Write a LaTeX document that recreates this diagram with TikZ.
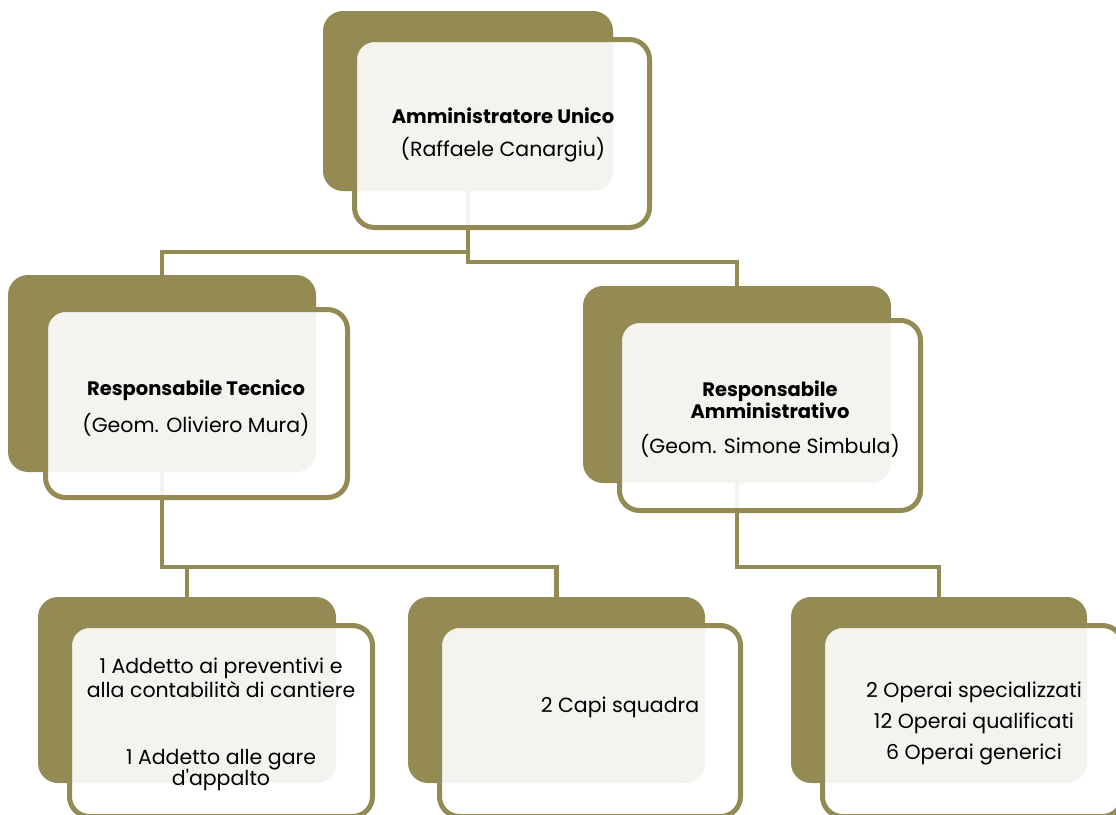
\documentclass[tikz,border=0pt]{standalone}
\usepackage{fontspec}
\setmainfont{Poppins}[Ligatures=TeXOff]
\usetikzlibrary{backgrounds}
\definecolor{olive}{HTML}{948A54}
\newcommand{\bfl}[1]{{\fontsize{19.5}{22}\selectfont\bfseries #1}}
\begin{document}
\begin{tikzpicture}[x=1pt,y=-1pt,
  back/.style={fill=olive, draw=none, rounded corners=20pt, inner sep=0pt},
  front/.style={draw=olive, line width=5pt, fill=white, fill opacity=0.9, draw opacity=1, rounded corners=20pt, inner sep=0pt},
  conn/.style={draw=olive, line width=4.5pt},
  txt/.style={align=center, text=black, inner sep=0pt, font=\fontsize{20.5}{22}\selectfont}]
\useasboundingbox (0,0) rectangle (1116,814);
\clip (0,0) rectangle (1116,814);
% back boxes
\path (468,101) node[back, minimum width=290pt, minimum height=180pt] (d0) {};
\path (162,373.5) node[back, minimum width=308pt, minimum height=197pt] (dT) {};
\path (737,384.5) node[back, minimum width=308pt, minimum height=197pt] (dA) {};
\path (187,690) node[back, minimum width=298pt, minimum height=186pt] (dC1) {};
\path (556.5,690) node[back, minimum width=297pt, minimum height=186pt] (dC2) {};
\path (939,690) node[back, minimum width=296pt, minimum height=186pt] (dC3) {};
% front boxes
\path (502,133.5) node[front, minimum width=295pt, minimum height=188pt] (f0) {};
\path (196.5,403.5) node[front, minimum width=302pt, minimum height=188pt] (fT) {};
\path (770,415.5) node[front, minimum width=301pt, minimum height=190pt] (fA) {};
\path (221,721) node[front, minimum width=303pt, minimum height=191pt] (fC1) {};
\path (590,721) node[front, minimum width=301pt, minimum height=191pt] (fC2) {};
\path (972.5,721) node[front, minimum width=300pt, minimum height=191pt] (fC3) {};
% junction coordinates
\coordinate (j0L) at (468,252);
\coordinate (j0R) at (468,262);
\coordinate (jT) at (162,567);
\coordinate (jA) at (737,567);
% connectors behind the boxes
\begin{pgfonlayer}{background}
\draw[conn] (d0.south) -- (j0R) -| (dA.north);
\draw[conn] (j0L) -| (dT.north);
\draw[conn] (dT.south) -- (jT) -| (dC2.north);
\draw[conn] (jT -| dC1.north) -- (dC1.north);
\draw[conn] (dA.south) -- (jA) -| (dC3.north);
\end{pgfonlayer}
% texts
\node[txt] (t0) at (503,135) {\bfl{Amministratore Unico}\\[11pt](Raffaele Canargiu)};
\node[txt] (tT) at (196,408) {\bfl{Responsabile Tecnico}\\[11pt](Geom. Oliviero Mura)};
\node[txt] (tA) at (770,419) {\bfl{Responsabile}\\\bfl{Amministrativo}\\[13pt](Geom. Simone Simbula)};
\node[txt] (tC1) at (221,724) {1 Addetto ai preventivi e\\[2pt]alla contabilità di cantiere\\[45pt]1 Addetto alle gare\\[-1pt]d'appalto};
\node[txt] (tC2) at (620,707) {2 Capi squadra};
\node[txt] (tC3) at (974,723) {2 Operai specializzati\\[9pt]12 Operai qualificati\\[9pt]6 Operai generici};
\end{tikzpicture}
\end{document}
